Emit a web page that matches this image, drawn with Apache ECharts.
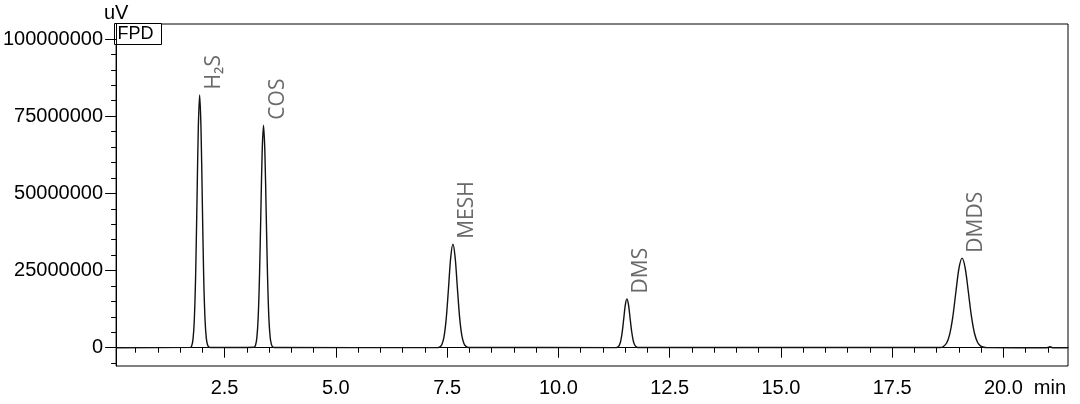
<!DOCTYPE html>
<html>
<head>
<meta charset="utf-8">
<script src="https://cdn.jsdelivr.net/npm/echarts@6/dist/echarts.min.js"></script>
<style>
html,body{margin:0;padding:0;background:#fff;}
#chart{width:1080px;height:404px;}
</style>
</head>
<body>
<div id="chart"></div>
<script>
// ---- data (values in millions of uV, time in min) ----
const baseStart = [[0.063, 0]];
const h2sT = [1.73,1.76,1.79,1.82,1.85,1.88,1.91,1.94,1.97,2.00,2.03,2.06,2.09,2.12,2.15,2.18];
const h2sV = [0.09,0.56,2.6,9.0,23.5,47.2,71.3,81.9,71.3,47.2,23.5,9.4,3.0,0.8,0.2,0.04];
const cosT = [3.165,3.195,3.225,3.255,3.285,3.315,3.345,3.375,3.405,3.435,3.465,3.495,3.525,3.555,3.585,3.615];
const cosV = [0.16,0.8,3.17,9.75,23.4,43.7,63.6,72.1,63.6,43.7,23.4,9.75,3.3,0.9,0.2,0.04];
const meshT = [7.28,7.33,7.38,7.43,7.48,7.53,7.58,7.63,7.68,7.73,7.78,7.83,7.88,7.93,7.98];
const meshV = [0.03,0.21,0.97,3.5,9.4,19.0,29.1,33.5,29.3,19.5,10.0,4.0,1.3,0.35,0.08];
const dmsT = [11.295,11.33,11.365,11.40,11.435,11.47,11.505,11.54,11.575,11.61,11.645,11.68,11.715,11.75,11.785];
const dmsV = [0.035,0.18,0.69,2.14,5.13,9.58,13.94,15.8,13.94,9.7,5.4,2.4,0.85,0.25,0.06];
const dmdsT = [18.58,18.65,18.72,18.79,18.86,18.93,19.00,19.07,19.14,19.21,19.28,19.35,19.42,19.49,19.56,19.63];
const dmdsV = [0.08,0.39,1.45,4.26,9.83,17.95,25.7,29.0,25.8,18.2,10.2,4.6,1.7,0.5,0.13,0.03];
const tailT = [20.98,21.05,21.1,21.45];
const tailV = [0,0.35,0,0];

const peakNames = ['H\u2082S','COS','MESH','DMS','DMDS'];
const peakTimes = [1.94,3.375,7.63,11.54,19.07];
const peakHeights = [81.9,72.1,33.5,15.8,29.0];

const xMajorTicks = [2.5,5.0,7.5,10.0,12.5,15.0,17.5,20.0];
const xMinorTicks = [0.5,1.0,1.5,2.0,3.0,3.5,4.0,4.5,5.5,6.0,6.5,7.0,8.0,8.5,9.0,9.5,10.5,11.0,11.5,12.0,13.0,13.5,14.0,14.5,15.5,16.0,16.5,17.0,18.0,18.5,19.0,19.5,20.5,21.0];
const yMajorTicks = [0,25,50,75,100];
const yMinorTicks = [-5,5,10,15,20,30,35,40,45,55,60,65,70,80,85,90,95];
const yScale = 1e6; // millions -> uV for labels

// ---- build trace ----
function pairs(t, v){ return t.map((x,i)=>[x, v[i]]); }
const trace = [].concat(
  baseStart,
  pairs(h2sT,h2sV), pairs(cosT,cosV), pairs(meshT,meshV),
  pairs(dmsT,dmsV), pairs(dmdsT,dmdsV), pairs(tailT,tailV)
);
const peaks = peakTimes.map((t,i)=>({value:[t, peakHeights[i]], name: peakNames[i]}));

const X_MIN = 0.063, X_MAX = 21.45, Y_MIN = -5.93, Y_MAX = 104.86;
const FONT = 'Liberation Sans, Arial, sans-serif';

const chart = echarts.init(document.getElementById('chart'), null, {renderer:'canvas'});
chart.setOption({
  animation: false,
  backgroundColor: '#fff',
  grid: {left:114, top:24, right:12, bottom:38, show:true, borderColor:'#000', borderWidth:1, containLabel:false},
  xAxis: [{
    type:'value', min:X_MIN, max:X_MAX, position:'bottom',
    axisLine:{show:true, lineStyle:{color:'#000', width:1}},
    axisTick:{show:true, inside:false, length:10, customValues:xMajorTicks, lineStyle:{color:'#000'}},
    axisLabel:{show:true, customValues:xMajorTicks, margin:12, fontFamily:FONT, fontSize:20, color:'#000',
      formatter:(v)=>v.toFixed(1)},
    splitLine:{show:false}
  },{
    type:'value', min:X_MIN, max:X_MAX, position:'bottom',
    axisLine:{show:false},
    axisTick:{show:true, inside:false, length:5, customValues:xMinorTicks, lineStyle:{color:'#000'}},
    axisLabel:{show:false},
    splitLine:{show:false}
  }],
  yAxis: [{
    type:'value', min:Y_MIN, max:Y_MAX, position:'left',
    name:'uV', nameLocation:'end', nameGap:1,
    nameTextStyle:{fontFamily:FONT, fontSize:20, color:'#000', align:'center', verticalAlign:'bottom'},
    axisLine:{show:true, lineStyle:{color:'#000', width:1}},
    axisTick:{show:true, inside:false, length:11, customValues:yMajorTicks, lineStyle:{color:'#000'}},
    axisLabel:{show:true, customValues:yMajorTicks, margin:13, fontFamily:FONT, fontSize:20, color:'#000',
      formatter:(v)=>String(Math.round(v*yScale))},
    splitLine:{show:false}
  },{
    type:'value', min:Y_MIN, max:Y_MAX, position:'left',
    axisLine:{show:false},
    axisTick:{show:true, inside:false, length:5, customValues:yMinorTicks, lineStyle:{color:'#000'}},
    axisLabel:{show:false},
    splitLine:{show:false}
  }],
  graphic: [{
    type:'group', left:114, top:23,
    children:[
      {type:'rect', shape:{x:0, y:0, width:47, height:21}, style:{fill:'#fff', stroke:'#000', lineWidth:1}},
      {type:'text', x:3, y:11, style:{text:'FPD', font:'18px Liberation Sans, Arial, sans-serif', fill:'#000', verticalAlign:'middle'}}
    ]
  },{
    type:'text', right:14, top:378,
    style:{text:'min', font:'20px Liberation Sans, Arial, sans-serif', fill:'#000'}
  }],
  series: [{
    name:'FPD', type:'line', xAxisIndex:0, yAxisIndex:0,
    data: trace, showSymbol:false, symbol:'none', smooth:0.3,
    lineStyle:{color:'#111', width:1.4}, clip:true, z:3
  },{
    name:'peaks', type:'scatter', xAxisIndex:0, yAxisIndex:0,
    data: peaks, symbolSize:1, itemStyle:{color:'rgba(0,0,0,0)'}, silent:true, z:4,
    label:{show:true, formatter:(p)=>p.name, position:[4,-5], rotate:90, align:'left', verticalAlign:'top',
      fontFamily:"'Open Sans', 'DejaVu Sans', sans-serif", fontSize:21, color:'#444'}
  }]
});
</script>
</body>
</html>
